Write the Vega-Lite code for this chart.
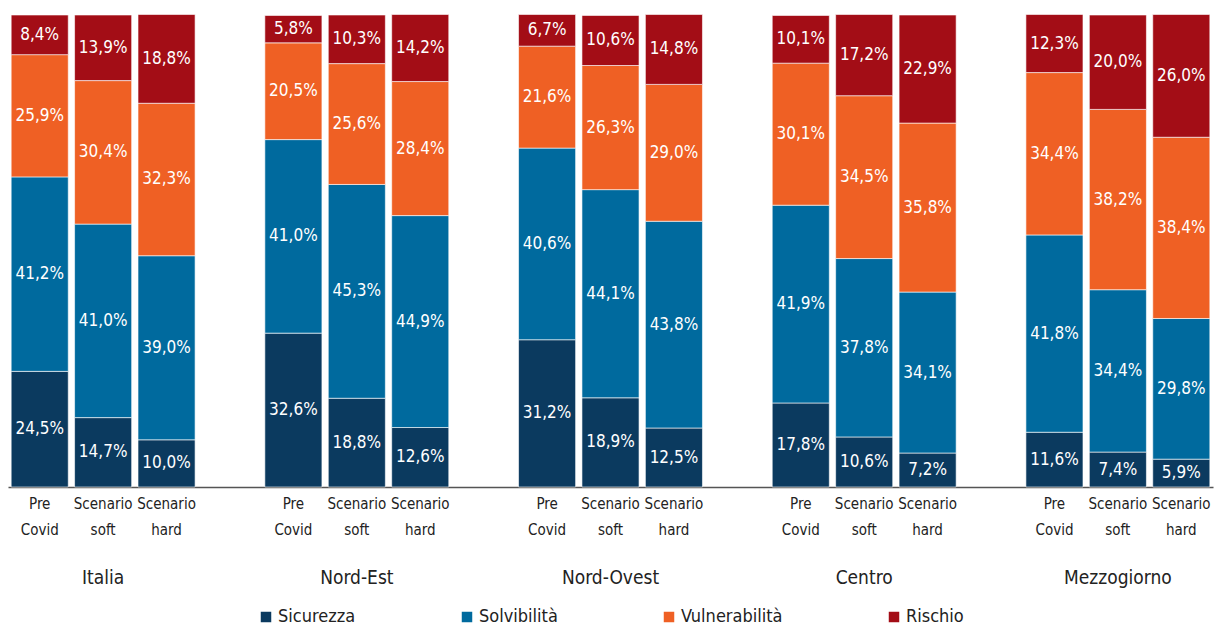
{
  "$schema": "https://vega.github.io/schema/vega-lite/v6.json",
  "width": 1205,
  "height": 472,
  "autosize": "none",
  "padding": {"left": 8, "right": 3, "top": 15, "bottom": 143},
  "background": "white",
  "config": {
    "view": {"stroke": null},
    "font": "'Liberation Sans Narrow', 'DejaVu Sans Condensed', 'Roboto Condensed', sans-serif",
    "legend": {"layout": {"bottom": {"anchor": "middle"}}}
  },
  "data": {"values": [
    {"region": "Italia", "scenario": "Pre Covid", "cat": "Sicurezza", "value": 24.5},
    {"region": "Italia", "scenario": "Pre Covid", "cat": "Solvibilità", "value": 41.2},
    {"region": "Italia", "scenario": "Pre Covid", "cat": "Vulnerabilità", "value": 25.9},
    {"region": "Italia", "scenario": "Pre Covid", "cat": "Rischio", "value": 8.4},
    {"region": "Italia", "scenario": "Scenario soft", "cat": "Sicurezza", "value": 14.7},
    {"region": "Italia", "scenario": "Scenario soft", "cat": "Solvibilità", "value": 41.0},
    {"region": "Italia", "scenario": "Scenario soft", "cat": "Vulnerabilità", "value": 30.4},
    {"region": "Italia", "scenario": "Scenario soft", "cat": "Rischio", "value": 13.9},
    {"region": "Italia", "scenario": "Scenario hard", "cat": "Sicurezza", "value": 10.0},
    {"region": "Italia", "scenario": "Scenario hard", "cat": "Solvibilità", "value": 39.0},
    {"region": "Italia", "scenario": "Scenario hard", "cat": "Vulnerabilità", "value": 32.3},
    {"region": "Italia", "scenario": "Scenario hard", "cat": "Rischio", "value": 18.8},
    {"region": "Nord-Est", "scenario": "Pre Covid", "cat": "Sicurezza", "value": 32.6},
    {"region": "Nord-Est", "scenario": "Pre Covid", "cat": "Solvibilità", "value": 41.0},
    {"region": "Nord-Est", "scenario": "Pre Covid", "cat": "Vulnerabilità", "value": 20.5},
    {"region": "Nord-Est", "scenario": "Pre Covid", "cat": "Rischio", "value": 5.8},
    {"region": "Nord-Est", "scenario": "Scenario soft", "cat": "Sicurezza", "value": 18.8},
    {"region": "Nord-Est", "scenario": "Scenario soft", "cat": "Solvibilità", "value": 45.3},
    {"region": "Nord-Est", "scenario": "Scenario soft", "cat": "Vulnerabilità", "value": 25.6},
    {"region": "Nord-Est", "scenario": "Scenario soft", "cat": "Rischio", "value": 10.3},
    {"region": "Nord-Est", "scenario": "Scenario hard", "cat": "Sicurezza", "value": 12.6},
    {"region": "Nord-Est", "scenario": "Scenario hard", "cat": "Solvibilità", "value": 44.9},
    {"region": "Nord-Est", "scenario": "Scenario hard", "cat": "Vulnerabilità", "value": 28.4},
    {"region": "Nord-Est", "scenario": "Scenario hard", "cat": "Rischio", "value": 14.2},
    {"region": "Nord-Ovest", "scenario": "Pre Covid", "cat": "Sicurezza", "value": 31.2},
    {"region": "Nord-Ovest", "scenario": "Pre Covid", "cat": "Solvibilità", "value": 40.6},
    {"region": "Nord-Ovest", "scenario": "Pre Covid", "cat": "Vulnerabilità", "value": 21.6},
    {"region": "Nord-Ovest", "scenario": "Pre Covid", "cat": "Rischio", "value": 6.7},
    {"region": "Nord-Ovest", "scenario": "Scenario soft", "cat": "Sicurezza", "value": 18.9},
    {"region": "Nord-Ovest", "scenario": "Scenario soft", "cat": "Solvibilità", "value": 44.1},
    {"region": "Nord-Ovest", "scenario": "Scenario soft", "cat": "Vulnerabilità", "value": 26.3},
    {"region": "Nord-Ovest", "scenario": "Scenario soft", "cat": "Rischio", "value": 10.6},
    {"region": "Nord-Ovest", "scenario": "Scenario hard", "cat": "Sicurezza", "value": 12.5},
    {"region": "Nord-Ovest", "scenario": "Scenario hard", "cat": "Solvibilità", "value": 43.8},
    {"region": "Nord-Ovest", "scenario": "Scenario hard", "cat": "Vulnerabilità", "value": 29.0},
    {"region": "Nord-Ovest", "scenario": "Scenario hard", "cat": "Rischio", "value": 14.8},
    {"region": "Centro", "scenario": "Pre Covid", "cat": "Sicurezza", "value": 17.8},
    {"region": "Centro", "scenario": "Pre Covid", "cat": "Solvibilità", "value": 41.9},
    {"region": "Centro", "scenario": "Pre Covid", "cat": "Vulnerabilità", "value": 30.1},
    {"region": "Centro", "scenario": "Pre Covid", "cat": "Rischio", "value": 10.1},
    {"region": "Centro", "scenario": "Scenario soft", "cat": "Sicurezza", "value": 10.6},
    {"region": "Centro", "scenario": "Scenario soft", "cat": "Solvibilità", "value": 37.8},
    {"region": "Centro", "scenario": "Scenario soft", "cat": "Vulnerabilità", "value": 34.5},
    {"region": "Centro", "scenario": "Scenario soft", "cat": "Rischio", "value": 17.2},
    {"region": "Centro", "scenario": "Scenario hard", "cat": "Sicurezza", "value": 7.2},
    {"region": "Centro", "scenario": "Scenario hard", "cat": "Solvibilità", "value": 34.1},
    {"region": "Centro", "scenario": "Scenario hard", "cat": "Vulnerabilità", "value": 35.8},
    {"region": "Centro", "scenario": "Scenario hard", "cat": "Rischio", "value": 22.9},
    {"region": "Mezzogiorno", "scenario": "Pre Covid", "cat": "Sicurezza", "value": 11.6},
    {"region": "Mezzogiorno", "scenario": "Pre Covid", "cat": "Solvibilità", "value": 41.8},
    {"region": "Mezzogiorno", "scenario": "Pre Covid", "cat": "Vulnerabilità", "value": 34.4},
    {"region": "Mezzogiorno", "scenario": "Pre Covid", "cat": "Rischio", "value": 12.3},
    {"region": "Mezzogiorno", "scenario": "Scenario soft", "cat": "Sicurezza", "value": 7.4},
    {"region": "Mezzogiorno", "scenario": "Scenario soft", "cat": "Solvibilità", "value": 34.4},
    {"region": "Mezzogiorno", "scenario": "Scenario soft", "cat": "Vulnerabilità", "value": 38.2},
    {"region": "Mezzogiorno", "scenario": "Scenario soft", "cat": "Rischio", "value": 20.0},
    {"region": "Mezzogiorno", "scenario": "Scenario hard", "cat": "Sicurezza", "value": 5.9},
    {"region": "Mezzogiorno", "scenario": "Scenario hard", "cat": "Solvibilità", "value": 29.8},
    {"region": "Mezzogiorno", "scenario": "Scenario hard", "cat": "Vulnerabilità", "value": 38.4},
    {"region": "Mezzogiorno", "scenario": "Scenario hard", "cat": "Rischio", "value": 26.0}
  ]},
  "transform": [
    {"calculate": "datum.region + '|' + datum.scenario", "as": "bar"},
    {"calculate": "indexof(['Sicurezza','Solvibilità','Vulnerabilità','Rischio'], datum.cat)", "as": "ord"},
    {"stack": "value", "groupby": ["bar"], "sort": [{"field": "ord", "order": "ascending"}], "as": ["y0", "y1"]},
    {"calculate": "(datum.y0 + datum.y1) / 2", "as": "mid"},
    {"calculate": "replace(format(datum.value, '.1f'), '.', ',') + '%'", "as": "label"}
  ],
  "encoding": {
    "x": {
      "field": "bar",
      "type": "nominal",
      "sort": null,
      "scale": {
        "domain": [
          "Italia|Pre Covid", "Italia|Scenario soft", "Italia|Scenario hard", "gap1",
          "Nord-Est|Pre Covid", "Nord-Est|Scenario soft", "Nord-Est|Scenario hard", "gap2",
          "Nord-Ovest|Pre Covid", "Nord-Ovest|Scenario soft", "Nord-Ovest|Scenario hard", "gap3",
          "Centro|Pre Covid", "Centro|Scenario soft", "Centro|Scenario hard", "gap4",
          "Mezzogiorno|Pre Covid", "Mezzogiorno|Scenario soft", "Mezzogiorno|Scenario hard"
        ],
        "paddingInner": 0.1,
        "paddingOuter": 0.05
      },
      "axis": {
        "title": null,
        "ticks": false,
        "labelAngle": 0,
        "labelExpr": "indexof(datum.value, '|') > 0 ? split(split(datum.value, '|')[1], ' ') : ''",
        "labelFontSize": 15,
        "labelColor": "#222222",
        "labelLineHeight": 26,
        "labelPadding": 9,
        "labelBaseline": "top",
        "domainColor": "#555555",
        "domainWidth": 1.5,
        "grid": false
      }
    }
  },
  "layer": [
    {
      "mark": {"type": "bar", "stroke": "white", "strokeWidth": 0.6},
      "encoding": {
        "y": {"field": "y0", "type": "quantitative", "scale": {"domain": [0, 100], "nice": false}, "axis": null},
        "y2": {"field": "y1"},
        "color": {
          "field": "cat",
          "type": "nominal",
          "scale": {
            "domain": ["Sicurezza", "Solvibilità", "Vulnerabilità", "Rischio"],
            "range": ["#0b3a5f", "#006a9e", "#ef6024", "#a30d16"]
          },
          "legend": {
            "title": null,
            "orient": "bottom",
            "direction": "horizontal",
            "symbolType": "square",
            "symbolSize": 110,
            "symbolStrokeWidth": 0,
            "labelFontSize": 18,
            "labelColor": "#222222",
            "labelOffset": 3,
            "columnPadding": 102,
            "offset": 71
          }
        }
      }
    },
    {
      "mark": {"type": "text", "color": "white", "fontSize": 17, "baseline": "middle"},
      "encoding": {
        "y": {"field": "mid", "type": "quantitative"},
        "text": {"field": "label"}
      }
    },
    {
      "data": {"values": [
        {"region": "Italia", "bar": "Italia|Scenario soft"},
        {"region": "Nord-Est", "bar": "Nord-Est|Scenario soft"},
        {"region": "Nord-Ovest", "bar": "Nord-Ovest|Scenario soft"},
        {"region": "Centro", "bar": "Centro|Scenario soft"},
        {"region": "Mezzogiorno", "bar": "Mezzogiorno|Scenario soft"}
      ]},
      "mark": {"type": "text", "fontSize": 19, "color": "#222222", "baseline": "middle"},
      "encoding": {
        "y": {"datum": -19.3},
        "text": {"field": "region"}
      }
    }
  ]
}
